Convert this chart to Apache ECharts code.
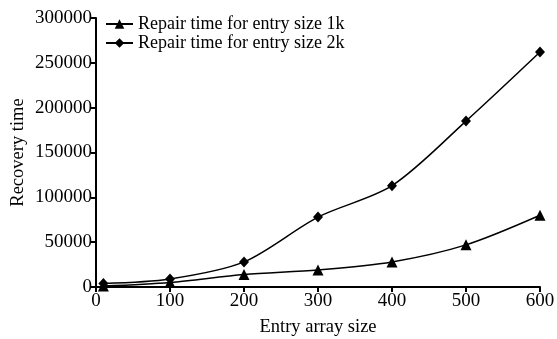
<!DOCTYPE html>
<html>
<head>
<meta charset="utf-8">
<script src="https://cdn.jsdelivr.net/npm/echarts@6/dist/echarts.min.js"></script>
<style>
  html, body { margin: 0; padding: 0; background: #fff; }
  #chart { width: 557px; height: 339px; }
</style>
</head>
<body>
<div id="chart"></div>
<script>
const entrySizes = [10, 100, 200, 300, 400, 500, 600]
const repair1k = [1000, 5000, 14000, 19000, 28000, 47000, 80000]
const repair2k = [4000, 9000, 28000, 78000, 113000, 185000, 262000]

const font = 'Liberation Serif'
const toPairs = (xs, ys) => xs.map((x, i) => [x, ys[i]])

const chart = echarts.init(document.getElementById('chart'))

const axisCommon = {
  axisLine: { show: true, lineStyle: { color: '#000', width: 2 } },
  axisTick: { show: true, inside: false, length: 5, lineStyle: { color: '#000', width: 2 } },
  axisLabel: { color: '#000', fontFamily: font, fontSize: 19, formatter: (v) => String(v) },
  splitLine: { show: false },
  nameTextStyle: { color: '#000', fontFamily: font, fontSize: 18.5 }
}

chart.setOption({
  animation: false,
  grid: { left: 96, right: 17, top: 18, bottom: 52, outerBoundsMode: 'none', containLabel: false },
  legend: {
    left: 100,
    top: 10,
    orient: 'vertical',
    itemGap: 1,
    itemWidth: 27,
    itemHeight: 12,
    textStyle: { color: '#000', fontFamily: font, fontSize: 18 },
    data: ['Repair time for entry size 1k', 'Repair time for entry size 2k']
  },
  xAxis: {
    ...axisCommon,
    type: 'value',
    min: 0,
    max: 600,
    interval: 100,
    name: 'Entry array size',
    nameLocation: 'middle',
    nameGap: 31,
    nameMoveOverlap: false,
    axisLabel: { ...axisCommon.axisLabel, margin: 5 }
  },
  yAxis: {
    ...axisCommon,
    type: 'value',
    min: 0,
    max: 300000,
    interval: 50000,
    name: 'Recovery time',
    nameLocation: 'middle',
    nameGap: 68,
    nameMoveOverlap: false,
    axisLabel: { ...axisCommon.axisLabel, margin: 4 }
  },
  series: [
    {
      name: 'Repair time for entry size 1k',
      type: 'line',
      smooth: 0.3,
      data: toPairs(entrySizes, repair1k),
      symbol: 'triangle',
      symbolSize: 11,
      itemStyle: { color: '#000' },
      lineStyle: { color: '#000', width: 1.5 }
    },
    {
      name: 'Repair time for entry size 2k',
      type: 'line',
      smooth: 0.3,
      data: toPairs(entrySizes, repair2k),
      symbol: 'diamond',
      symbolSize: [10, 11],
      itemStyle: { color: '#000' },
      lineStyle: { color: '#000', width: 1.5 }
    }
  ]
})
</script>
</body>
</html>
